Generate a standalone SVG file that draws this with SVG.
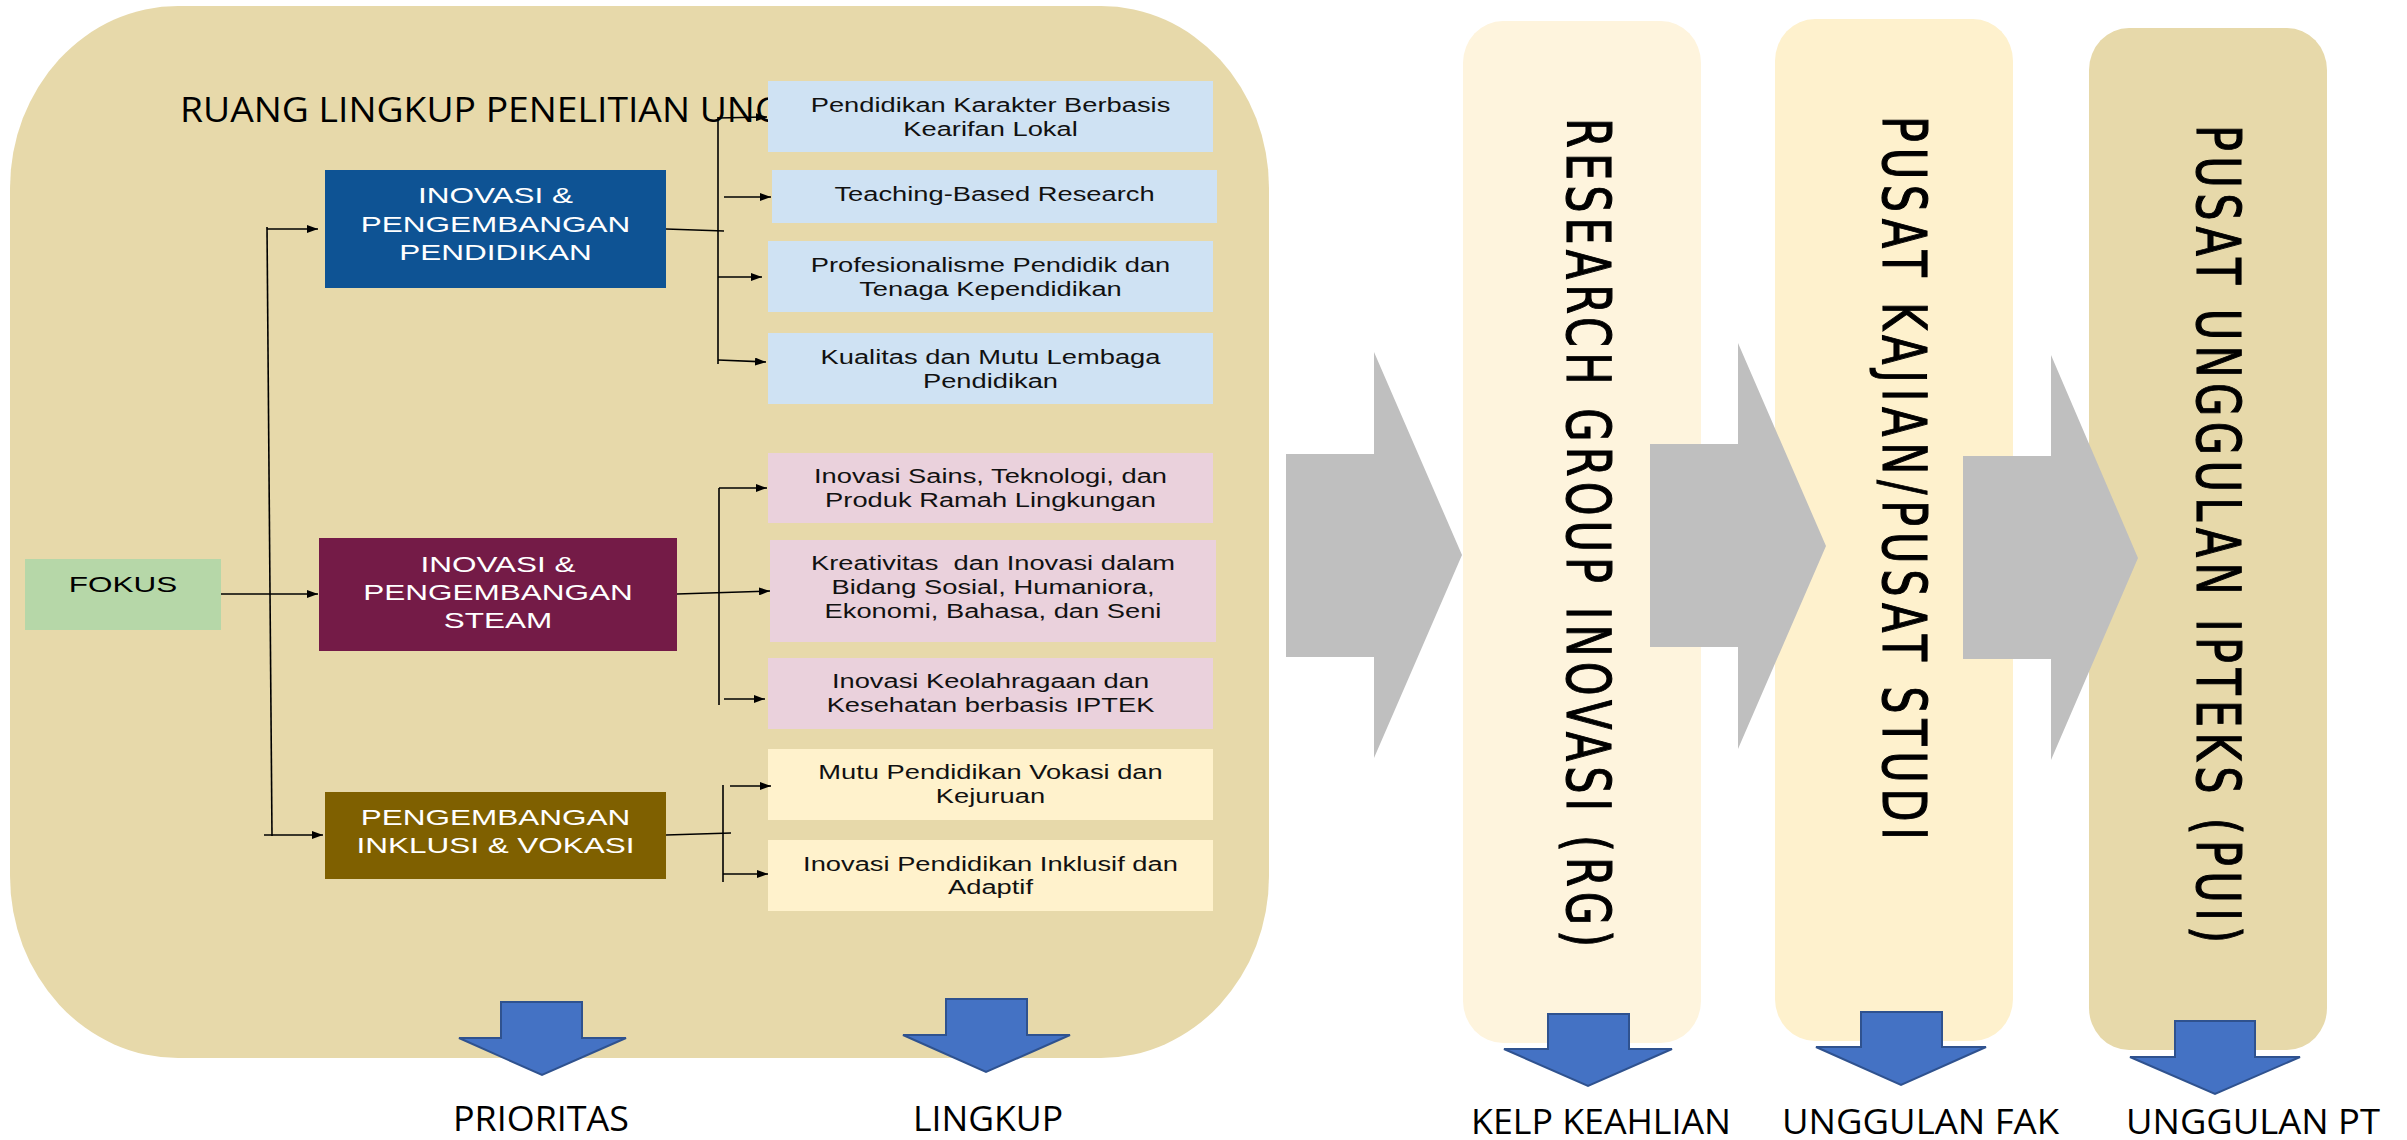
<svg xmlns="http://www.w3.org/2000/svg" width="2407" height="1140" viewBox="0 0 2407 1140">
<style>
.bx{font-family:"Liberation Sans",Arial,sans-serif;font-size:19.5px;fill:#111;text-anchor:middle}
.dk{font-family:"Liberation Sans",Arial,sans-serif;font-size:22.5px;fill:#fff;text-anchor:middle}
.lbl{font-family:"Open Sans","Liberation Sans",sans-serif;font-size:35px;fill:#000}
.vt{font-family:"DejaVu Sans","Liberation Sans",sans-serif;font-size:43px;fill:#000;stroke:#000;stroke-width:0.8}
.con{stroke:#000;stroke-width:1.6;fill:none}
.arr{marker-end:url(#ah)}
.grey{fill:#BFBFBF}
.blue{fill:#4472C4;stroke:#2F528F;stroke-width:2}
</style>
<defs>
<marker id="ah" markerUnits="userSpaceOnUse" markerWidth="11" markerHeight="8" refX="11" refY="4" orient="auto">
<path d="M0,0 L11,4 L0,8 z" fill="#000"/>
</marker>
</defs>
<rect width="2407" height="1140" fill="#fff"/>

<g id="ruang-lingkup">
<rect x="10" y="6" width="1259" height="1052" rx="168" ry="182" fill="#E7D9AA"/>
<text class="lbl" x="180" y="122" textLength="602" lengthAdjust="spacingAndGlyphs">RUANG LINGKUP PENELITIAN UNG</text>
</g>

<g id="fokus">
<rect x="25" y="559" width="196" height="71" fill="#B6D7A8"/>
<text class="dk" style="fill:#000" transform="translate(123 0) scale(1.4 1)"><tspan x="0" y="592">FOKUS</tspan></text>
</g>

<g id="inovasi-pendidikan">
<rect x="325" y="170" width="341" height="118" fill="#0E5394"/>
<text class="dk" transform="translate(495.5 0) scale(1.4 1)"><tspan x="0" y="203">INOVASI &amp;</tspan><tspan x="0" y="232">PENGEMBANGAN</tspan><tspan x="0" y="260">PENDIDIKAN</tspan></text>
</g>

<g id="inovasi-steam">
<rect x="319" y="538" width="358" height="113" fill="#741B47"/>
<text class="dk" transform="translate(498 0) scale(1.4 1)"><tspan x="0" y="572">INOVASI &amp;</tspan><tspan x="0" y="600">PENGEMBANGAN</tspan><tspan x="0" y="628">STEAM</tspan></text>
</g>

<g id="inklusi-vokasi">
<rect x="325" y="792" width="341" height="87" fill="#7F6000"/>
<text class="dk" transform="translate(495.5 0) scale(1.4 1)"><tspan x="0" y="825">PENGEMBANGAN</tspan><tspan x="0" y="853">INKLUSI &amp; VOKASI</tspan></text>
</g>

<g id="pendidikan-karakter">
<rect x="768" y="81" width="445" height="71" fill="#CFE2F3"/>
<text class="bx" transform="translate(990.5 0) scale(1.4 1)"><tspan x="0" y="112">Pendidikan Karakter Berbasis</tspan><tspan x="0" y="136">Kearifan Lokal</tspan></text>
</g>
<g id="teaching-based">
<rect x="772" y="170" width="445" height="53" fill="#CFE2F3"/>
<text class="bx" transform="translate(994.5 0) scale(1.4 1)"><tspan x="0" y="201">Teaching-Based Research</tspan></text>
</g>
<g id="profesionalisme">
<rect x="768" y="241" width="445" height="71" fill="#CFE2F3"/>
<text class="bx" transform="translate(990.5 0) scale(1.4 1)"><tspan x="0" y="272">Profesionalisme Pendidik dan</tspan><tspan x="0" y="296">Tenaga Kependidikan</tspan></text>
</g>
<g id="kualitas-mutu">
<rect x="768" y="333" width="445" height="71" fill="#CFE2F3"/>
<text class="bx" transform="translate(990.5 0) scale(1.4 1)"><tspan x="0" y="364">Kualitas dan Mutu Lembaga</tspan><tspan x="0" y="388">Pendidikan</tspan></text>
</g>

<g id="inovasi-sains">
<rect x="768" y="453" width="445" height="70" fill="#EAD1DC"/>
<text class="bx" transform="translate(990.5 0) scale(1.4 1)"><tspan x="0" y="483">Inovasi Sains, Teknologi, dan</tspan><tspan x="0" y="507">Produk Ramah Lingkungan</tspan></text>
</g>
<g id="kreativitas">
<rect x="770" y="540" width="446" height="102" fill="#EAD1DC"/>
<text class="bx" style="white-space:pre" transform="translate(993 0) scale(1.4 1)"><tspan x="0" y="570">Kreativitas  dan Inovasi dalam</tspan><tspan x="0" y="594">Bidang Sosial, Humaniora,</tspan><tspan x="0" y="618">Ekonomi, Bahasa, dan Seni</tspan></text>
</g>
<g id="keolahragaan">
<rect x="768" y="658" width="445" height="71" fill="#EAD1DC"/>
<text class="bx" transform="translate(990.5 0) scale(1.4 1)"><tspan x="0" y="688">Inovasi Keolahragaan dan</tspan><tspan x="0" y="712">Kesehatan berbasis IPTEK</tspan></text>
</g>

<g id="mutu-vokasi">
<rect x="768" y="749" width="445" height="71" fill="#FFF2CC"/>
<text class="bx" transform="translate(990.5 0) scale(1.4 1)"><tspan x="0" y="779">Mutu Pendidikan Vokasi dan</tspan><tspan x="0" y="803">Kejuruan</tspan></text>
</g>
<g id="inklusif-adaptif">
<rect x="768" y="840" width="445" height="71" fill="#FFF2CC"/>
<text class="bx" transform="translate(990.5 0) scale(1.4 1)"><tspan x="0" y="871">Inovasi Pendidikan Inklusif dan</tspan><tspan x="0" y="894">Adaptif</tspan></text>
</g>

<g id="connectors">
<path class="con" d="M267,227 L272,836"/>
<path class="con arr" d="M267,229 L318,229"/>
<path class="con arr" d="M221,594 L318,594"/>
<path class="con arr" d="M264,835 L323,835"/>
<path class="con" d="M666,229 L724,231"/>
<path class="con" d="M718,117 L718,364"/>
<path class="con arr" d="M718,118 L767,117"/>
<path class="con arr" d="M724,197 L771,197"/>
<path class="con arr" d="M718,277 L762,277"/>
<path class="con arr" d="M718,360 L766,362"/>
<path class="con arr" d="M677,594 L770,591"/>
<path class="con" d="M719,488 L719,705"/>
<path class="con arr" d="M719,488 L767,488"/>
<path class="con arr" d="M724,699 L765,699"/>
<path class="con" d="M666,835 L731,833"/>
<path class="con" d="M723,785 L723,882"/>
<path class="con arr" d="M730,786 L771,786"/>
<path class="con arr" d="M723,874 L768,874"/>
<polygon class="blue" points="501,1002 582,1002 582,1038 626,1038 542,1075 459,1038 501,1038"/>
<polygon class="blue" points="946,999 1027,999 1027,1035 1070,1035 986,1072 903,1035 946,1035"/>
</g>

<g id="research-group">
<rect x="1463" y="21" width="238" height="1022" rx="40" ry="42" fill="#FEF4DD"/>
<text class="vt" transform="translate(1567 118) scale(1.4 1) rotate(90)" x="0" y="0" textLength="829" lengthAdjust="spacing">RESEARCH GROUP INOVASI (RG)</text>
</g>
<g id="pusat-kajian">
<rect x="1775" y="19" width="238" height="1022" rx="40" ry="42" fill="#FEF1CD"/>
<text class="vt" transform="translate(1883 116) scale(1.4 1) rotate(90)" x="0" y="0" textLength="724" lengthAdjust="spacing">PUSAT KAJIAN/PUSAT STUDI</text>
</g>
<g id="pusat-unggulan">
<rect x="2089" y="28" width="238" height="1022" rx="40" ry="42" fill="#E7D9AA"/>
<text class="vt" transform="translate(2197 125) scale(1.4 1) rotate(90)" x="0" y="0" textLength="818" lengthAdjust="spacing">PUSAT UNGGULAN IPTEKS (PUI)</text>
</g>

<g id="flow-arrows">
<polygon class="grey" points="1286,454 1374,454 1374,352 1462,555 1374,758 1374,657 1286,657"/>
<polygon class="grey" points="1650,444 1738,444 1738,343 1826,546 1738,749 1738,647 1650,647"/>
<polygon class="grey" points="1963,456 2051,456 2051,355 2138,558 2051,760 2051,659 1963,659"/>
<polygon class="blue" points="1548,1014 1629,1014 1629,1049 1672,1049 1588,1086 1504,1049 1548,1049"/>
<polygon class="blue" points="1861,1012 1942,1012 1942,1047 1986,1047 1901,1085 1816,1047 1861,1047"/>
<polygon class="blue" points="2175,1021 2255,1021 2255,1057 2300,1057 2215,1094 2130,1057 2175,1057"/>
</g>

<g id="labels">
<text class="lbl" x="453" y="1131" textLength="176" lengthAdjust="spacingAndGlyphs">PRIORITAS</text>
<text class="lbl" x="913" y="1131" textLength="150" lengthAdjust="spacingAndGlyphs">LINGKUP</text>
<text class="lbl" x="1471" y="1134" textLength="260" lengthAdjust="spacingAndGlyphs">KELP KEAHLIAN</text>
<text class="lbl" x="1782" y="1134" textLength="277" lengthAdjust="spacingAndGlyphs">UNGGULAN FAK</text>
<text class="lbl" x="2126" y="1134" textLength="254" lengthAdjust="spacingAndGlyphs">UNGGULAN PT</text>
</g>
</svg>
